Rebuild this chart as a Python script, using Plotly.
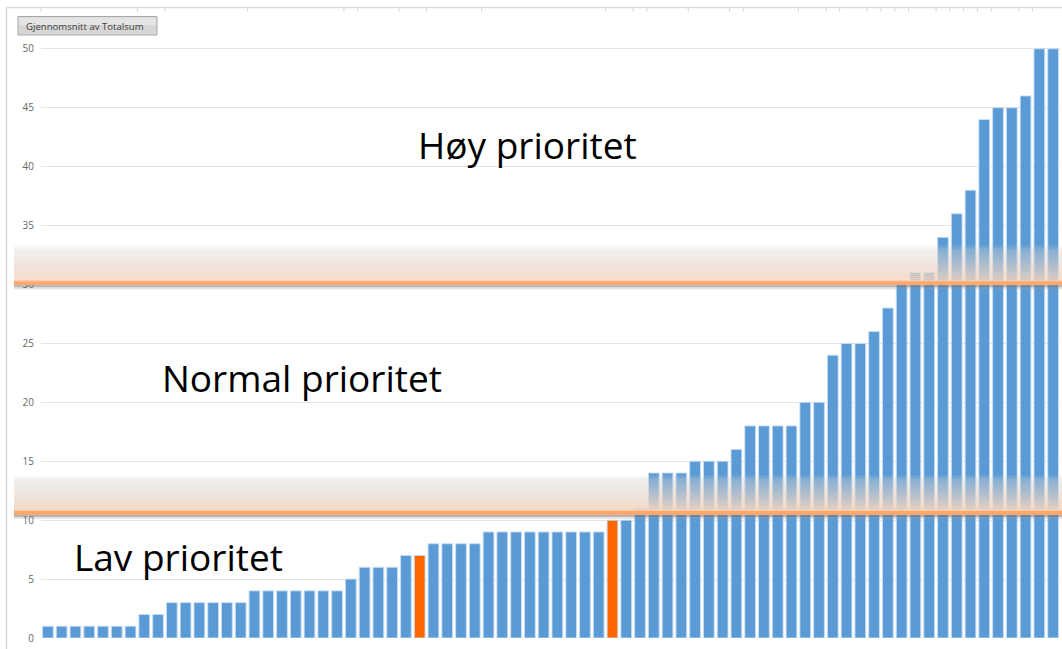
import plotly.graph_objects as go

# ---- data ----
values = [1, 1, 1, 1, 1, 1, 1,
          2, 2,
          3, 3, 3, 3, 3, 3,
          4, 4, 4, 4, 4, 4, 4,
          5,
          6, 6, 6,
          7, 7,
          8, 8, 8, 8,
          9, 9, 9, 9, 9, 9, 9, 9, 9,
          10, 10,
          11,
          14, 14, 14,
          15, 15, 15,
          16,
          18, 18, 18, 18,
          20, 20,
          24,
          25, 25,
          26,
          28,
          30,
          31, 31,
          34, 36, 38, 44, 45, 45, 46, 50, 50]
highlight = [27, 41]            # orange bars
y_ticks = [0, 5, 10, 15, 20, 25, 30, 35, 40, 45, 50]
thresholds = [10.6, 30.1]       # priority limits (orange lines)
labels = ["Lav prioritet", "Normal prioritet", "Høy prioritet"]
button_text = "Gjennomsnitt av Totalsum"

# ---- styling / geometry ----
W, H = 1062, 649
L, R, T, B = 41, 2, 37, 11
PW, PH = W - L - R, H - T - B
YMAX = 51.0
BLUE = "#5b9bd5"
ORANGE = "#ff6600"

def px(p):   # pixel x -> paper x
    return (p - L) / PW

def py(p):   # pixel y -> paper y
    return (H - B - p) / PH

def v2pix(v):
    return H - B - v / YMAX * PH

n = len(values)
xs = list(range(n))
colors = [ORANGE if i in highlight else BLUE for i in xs]

fig = go.Figure(go.Bar(
    x=xs, y=values,
    marker=dict(color=colors, line=dict(color="rgba(200,222,245,0.9)", width=1)),
    hoverinfo="y",
))

shapes = []
# frame lines (left and top)
shapes.append(dict(type="line", xref="paper", yref="paper", x0=px(6.5), x1=px(6.5),
                   y0=py(7), y1=py(H + 5), line=dict(color="#d9d9d9", width=1.5), layer="below"))
shapes.append(dict(type="line", xref="paper", yref="paper", x0=px(6.5), x1=px(W + 5),
                   y0=py(7.5), y1=py(7.5), line=dict(color="#d9d9d9", width=1.5), layer="below"))
# small ticks on the top frame at category groups
bounds = [-0.5] + [i - 0.5 for i in range(1, n) if values[i] != values[i - 1]]
for b in bounds:
    xp = (b + 0.5) / n
    shapes.append(dict(type="line", xref="paper", yref="paper", x0=xp, x1=xp,
                       y0=py(7.5), y1=py(12), line=dict(color="#d9d9d9", width=1), layer="below"))

# gradient bands with orange line
c_top = (214, 211, 209)
c_bot = (247, 214, 190)
for thr in thresholds:
    lp = v2pix(thr)
    top = lp - 38
    nsl = 19
    for k in range(nsl):
        t = k / (nsl - 1)
        op = 0.3 + 0.65 * t
        if k == 0:
            op = 0.12
        elif k == 1:
            op = 0.25
        c = tuple(int(c_top[j] + (c_bot[j] - c_top[j]) * t) for j in range(3))
        y0 = top + k * 2
        shapes.append(dict(type="rect", xref="paper", yref="paper",
                           x0=px(14), x1=px(W + 5), y0=py(y0 + 2), y1=py(y0),
                           fillcolor=f"rgba({c[0]},{c[1]},{c[2]},{op:.3f})",
                           line=dict(width=0), layer="above"))
    # orange line
    shapes.append(dict(type="rect", xref="paper", yref="paper",
                       x0=px(14), x1=px(W + 5), y0=py(lp + 2), y1=py(lp - 2),
                       fillcolor="rgb(249,168,112)", line=dict(width=0), layer="above"))
    shapes.append(dict(type="rect", xref="paper", yref="paper",
                       x0=px(14), x1=px(W + 5), y0=py(lp - 2), y1=py(lp - 3),
                       fillcolor="rgb(252,200,160)", line=dict(width=0), layer="above"))
    # shadow
    shapes.append(dict(type="rect", xref="paper", yref="paper",
                       x0=px(14), x1=px(W + 5), y0=py(lp + 4), y1=py(lp + 2),
                       fillcolor="rgba(120,120,120,0.55)", line=dict(width=0), layer="above"))
    shapes.append(dict(type="rect", xref="paper", yref="paper",
                       x0=px(14), x1=px(W + 5), y0=py(lp + 6), y1=py(lp + 4),
                       fillcolor="rgba(150,150,150,0.25)", line=dict(width=0), layer="above"))

# button
shapes.append(dict(type="rect", xref="paper", yref="paper",
                   x0=px(18), x1=px(157), y0=py(35), y1=py(16.5),
                   fillcolor="#d6d6d6", line=dict(color="#a8a8a8", width=1), layer="above"))
shapes.append(dict(type="rect", xref="paper", yref="paper",
                   x0=px(19), x1=px(156), y0=py(25), y1=py(17.5),
                   fillcolor="#e4e4e4", line=dict(width=0), layer="above"))

annotations = [
    dict(text=button_text, xref="paper", yref="paper", x=px(85), y=py(26),
         xanchor="center", yanchor="middle", showarrow=False,
         font=dict(family="Open Sans", size=9.6, color="#404040")),
    dict(text=labels[2], xref="paper", yref="paper", x=px(527), y=py(145),
         xanchor="center", yanchor="middle", showarrow=False,
         font=dict(family="Open Sans", size=37, color="#000000")),
    dict(text=labels[1], xref="paper", yref="paper", x=px(302), y=py(378),
         xanchor="center", yanchor="middle", showarrow=False,
         font=dict(family="Open Sans", size=37, color="#000000")),
    dict(text=labels[0], xref="paper", yref="paper", x=px(178), y=py(556),
         xanchor="center", yanchor="middle", showarrow=False,
         font=dict(family="Open Sans", size=37, color="#000000")),
]

fig.update_layout(
    width=W, height=H,
    margin=dict(l=L, r=R, t=T, b=B, pad=0),
    paper_bgcolor="white", plot_bgcolor="white",
    bargap=0.22,
    showlegend=False,
    shapes=shapes,
    annotations=annotations,
    xaxis=dict(range=[-0.5, n - 0.5], showticklabels=False, showgrid=False,
               zeroline=False, showline=False, ticks=""),
    yaxis=dict(range=[0, YMAX], tickvals=y_ticks, showgrid=True, gridcolor="#e4e4e4",
               gridwidth=1, zeroline=False, showline=False, ticks="",
               ticklabelstandoff=6,
               tickfont=dict(family="Open Sans", size=10, color="#666666")),
)

fig.write_html(
    "out.html",
    config={"displayModeBar": False},
    post_script="document.body.style.margin='0';document.body.style.overflow='hidden';"
                "document.documentElement.style.overflow='hidden';",
)
